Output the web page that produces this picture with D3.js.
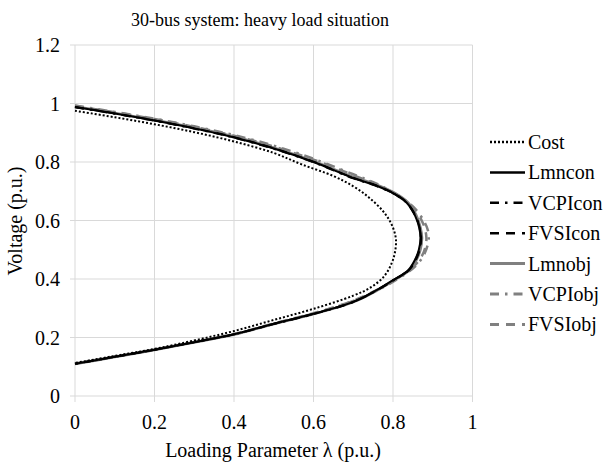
<!DOCTYPE html>
<html>
<head>
<meta charset="utf-8">
<script src="https://cdn.jsdelivr.net/npm/d3@7"></script>
<style>
  body { margin: 0; background: #fff; }
  #chart text { font-family: "Times", "Liberation Serif", serif; fill: #000; }
</style>
</head>
<body>
<svg id="chart" width="609" height="464"></svg>
<script>
// chart values: [loading parameter, voltage]
var cost = [[0,0.975],[0.1,0.953],[0.2,0.929],[0.3,0.902],[0.4,0.87],[0.5,0.831],[0.57,0.792],[0.65,0.752],[0.7,0.717],[0.74,0.678],[0.776,0.63],[0.797,0.585],[0.807,0.54],[0.806,0.5],[0.797,0.455],[0.778,0.41],[0.745,0.372],[0.7,0.343],[0.6,0.298],[0.5,0.26],[0.4,0.222],[0.3,0.19],[0.2,0.161],[0.1,0.137],[0,0.113]];
var lmncon = [[0,0.988],[0.1,0.966],[0.2,0.942],[0.3,0.915],[0.4,0.884],[0.5,0.846],[0.6,0.8],[0.7,0.745],[0.76,0.718],[0.805,0.69],[0.835,0.66],[0.856,0.615],[0.866,0.575],[0.869,0.54],[0.865,0.5],[0.855,0.465],[0.838,0.43],[0.8,0.396],[0.76,0.363],[0.7,0.322],[0.6,0.281],[0.5,0.247],[0.4,0.211],[0.3,0.184],[0.2,0.158],[0.1,0.134],[0,0.11]];
var vcpicon = [[0,0.987],[0.1,0.965],[0.2,0.941],[0.3,0.914],[0.4,0.883],[0.5,0.845],[0.6,0.799],[0.7,0.744],[0.76,0.717],[0.805,0.689],[0.835,0.659],[0.857,0.614],[0.867,0.574],[0.87,0.54],[0.866,0.5],[0.856,0.465],[0.839,0.43],[0.8,0.395],[0.76,0.362],[0.7,0.321],[0.6,0.28],[0.5,0.246],[0.4,0.211],[0.3,0.184],[0.2,0.158],[0.1,0.134],[0,0.11]];
var fvsicon = [[0,0.988],[0.1,0.966],[0.2,0.942],[0.3,0.915],[0.4,0.885],[0.5,0.847],[0.6,0.801],[0.7,0.746],[0.76,0.719],[0.805,0.691],[0.835,0.661],[0.857,0.616],[0.867,0.576],[0.871,0.54],[0.867,0.5],[0.857,0.464],[0.84,0.43],[0.8,0.395],[0.76,0.362],[0.7,0.322],[0.6,0.281],[0.5,0.247],[0.4,0.211],[0.3,0.184],[0.2,0.158],[0.1,0.134],[0,0.11]];
var lmnobj = [[0,0.99],[0.1,0.968],[0.2,0.944],[0.3,0.918],[0.4,0.887],[0.5,0.849],[0.6,0.803],[0.7,0.749],[0.76,0.722],[0.805,0.694],[0.837,0.663],[0.859,0.617],[0.869,0.577],[0.873,0.54],[0.869,0.5],[0.859,0.465],[0.842,0.43],[0.8,0.394],[0.76,0.361],[0.7,0.321],[0.6,0.28],[0.5,0.246],[0.4,0.21],[0.3,0.183],[0.2,0.157],[0.1,0.133],[0,0.109]];
var vcpiobj = [[0,0.993],[0.1,0.971],[0.2,0.948],[0.3,0.922],[0.4,0.892],[0.5,0.856],[0.6,0.811],[0.7,0.758],[0.76,0.725],[0.82,0.679],[0.856,0.64],[0.877,0.6],[0.887,0.57],[0.89,0.545],[0.887,0.515],[0.876,0.478],[0.856,0.443],[0.82,0.407],[0.77,0.368],[0.7,0.325],[0.6,0.282],[0.5,0.247],[0.4,0.211],[0.3,0.184],[0.2,0.158],[0.1,0.134],[0,0.11]];
var fvsiobj = [[0,0.992],[0.1,0.97],[0.2,0.947],[0.3,0.92],[0.4,0.89],[0.5,0.853],[0.6,0.808],[0.7,0.755],[0.76,0.722],[0.815,0.681],[0.85,0.645],[0.871,0.603],[0.881,0.568],[0.884,0.54],[0.882,0.512],[0.872,0.477],[0.854,0.446],[0.82,0.41],[0.77,0.37],[0.7,0.326],[0.6,0.283],[0.5,0.248],[0.4,0.212],[0.3,0.185],[0.2,0.159],[0.1,0.135],[0,0.111]];

var seriesNames = ["Cost", "Lmncon", "VCPIcon", "FVSIcon", "Lmnobj", "VCPIobj", "FVSIobj"];
var seriesData = [cost, lmncon, vcpicon, fvsicon, lmnobj, vcpiobj, fvsiobj];
var xTicks = [0, 0.2, 0.4, 0.6, 0.8, 1];
var yTicks = [0, 0.2, 0.4, 0.6, 0.8, 1, 1.2];

(function() {
  var styles = [
    {color: "#000", width: 2, dash: "2 2"},
    {color: "#000", width: 2, dash: null},
    {color: "#000", width: 2, dash: "9 6 2.5 6"},
    {color: "#000", width: 2, dash: "9 7"},
    {color: "#808080", width: 2.5, dash: null},
    {color: "#808080", width: 2.5, dash: "9 6 2.5 6"},
    {color: "#808080", width: 2.5, dash: "9 7"}
  ];

  var svg = d3.select("#chart");
  var plotLeft = 75, plotRight = 472.5, plotTop = 45, plotBottom = 396;

  var x = d3.scaleLinear().domain([0, 1]).range([plotLeft, plotRight]);
  var y = d3.scaleLinear().domain([0, 1.2]).range([plotBottom, plotTop]);
  var grid = "#d9d9d9";

  // grid + tick marks
  svg.append("g").selectAll("line").data(yTicks).enter().append("line")
    .attr("x1", plotLeft - 5).attr("x2", plotRight)
    .attr("y1", function(d) { return y(d); }).attr("y2", function(d) { return y(d); })
    .attr("stroke", grid).attr("stroke-width", 1);
  svg.append("g").selectAll("line").data(xTicks).enter().append("line")
    .attr("x1", function(d) { return x(d); }).attr("x2", function(d) { return x(d); })
    .attr("y1", plotTop).attr("y2", plotBottom + 6)
    .attr("stroke", grid).attr("stroke-width", 1);

  // tick labels
  svg.append("g").selectAll("text").data(xTicks).enter().append("text")
    .attr("x", function(d) { return x(d); }).attr("y", plotBottom + 33)
    .attr("text-anchor", "middle").style("font-size", "20px")
    .text(function(d) { return d; });
  svg.append("g").selectAll("text").data(yTicks).enter().append("text")
    .attr("x", 60).attr("y", function(d) { return y(d) + 7; })
    .attr("text-anchor", "end").style("font-size", "20px")
    .text(function(d) { return d; });

  // titles
  svg.append("text").attr("x", 260).attr("y", 26).attr("text-anchor", "middle")
    .style("font-size", "18px").text("30-bus system: heavy load situation");
  svg.append("text").attr("x", 273).attr("y", 457).attr("text-anchor", "middle")
    .style("font-size", "20px").text("Loading Parameter λ (p.u.)");
  svg.append("text").attr("transform", "translate(22,221) rotate(-90)")
    .attr("text-anchor", "middle").style("font-size", "20px").text("Voltage (p.u.)");

  // curves
  var line = d3.line()
    .x(function(d) { return x(d[0]); })
    .y(function(d) { return y(d[1]); })
    .curve(d3.curveCatmullRom);

  [6, 5, 4, 3, 2, 1, 0].forEach(function(i) {
    svg.append("path").datum(seriesData[i])
      .attr("d", line)
      .attr("fill", "none")
      .attr("stroke", styles[i].color)
      .attr("stroke-width", styles[i].width)
      .attr("stroke-dasharray", styles[i].dash);
  });

  // legend
  var legend = svg.append("g").selectAll("g").data(seriesNames).enter().append("g")
    .attr("transform", function(d, i) { return "translate(490," + (142 + i * 30.4) + ")"; });
  legend.append("line")
    .attr("x1", 0).attr("x2", 35).attr("y1", 0).attr("y2", 0)
    .attr("stroke", function(d, i) { return styles[i].color; })
    .attr("stroke-width", function(d, i) { return styles[i].width + 0.5; })
    .attr("stroke-dasharray", function(d, i) { return styles[i].dash; });
  legend.append("text")
    .attr("x", 38).attr("y", 7).style("font-size", "20px")
    .text(function(d) { return d; });
})();
</script>
</body>
</html>
